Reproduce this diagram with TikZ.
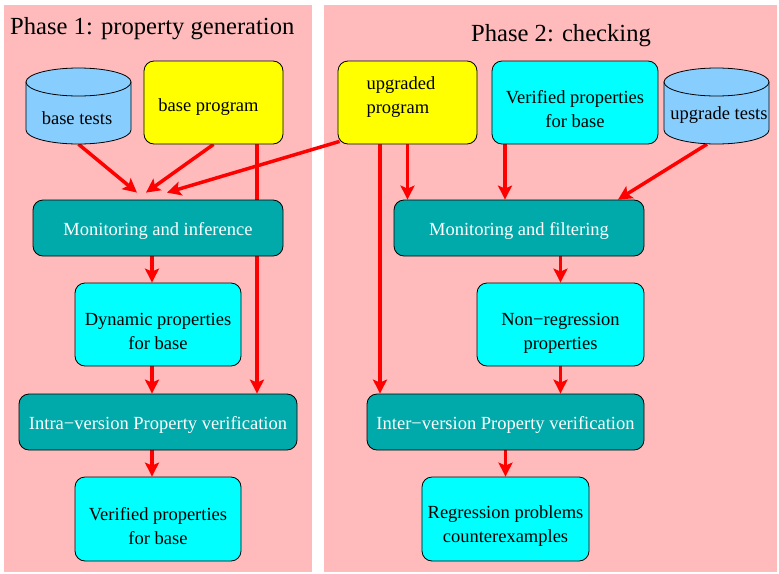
\documentclass[tikz,border=0pt]{standalone}
\usepackage{fontspec}
\setmainfont{Liberation Serif}
\usetikzlibrary{arrows.meta}
\definecolor{panelpink}{RGB}{255,187,187}
\definecolor{cylblue}{RGB}{135,206,255}
\definecolor{procteal}{RGB}{0,170,170}
\definecolor{datacyan}{RGB}{0,255,255}
\definecolor{progyellow}{RGB}{255,255,0}
\pgfdeclarelayer{bg}
\pgfsetlayers{bg,main}
\begin{document}
\begin{tikzpicture}[x=1pt,y=-1pt,
  every node/.style={font=\fontsize{18.5}{24}\selectfont},
  rbox/.style={draw=black, line width=0.8pt, rounded corners=10pt, inner sep=0pt},
  procbox/.style={rbox, fill=procteal, text=white, minimum width=#1, minimum height=56pt,
    text height=18pt, text depth=4pt},
  databox/.style={rbox, fill=datacyan, minimum width=#1, minimum height=83pt},
  progbox/.style={rbox, fill=progyellow, minimum width=139pt, minimum height=83pt},
  txt/.style={align=center, inner sep=0pt},
  cylbody/.style={fill=cylblue, draw=black, line width=0.8pt},
  title/.style={font=\fontsize{24.6}{30}\selectfont, inner sep=0pt},
  arr/.style={draw=red, line width=3.5pt, -{Stealth[length=14pt, width=14pt, inset=3pt]}}
]
\useasboundingbox (0,0) rectangle (779,573);

% panels
\begin{pgfonlayer}{bg}
  \fill[panelpink] (4,5) rectangle (312,572);
  \fill[panelpink] (324,5) rectangle (777,572);
\end{pgfonlayer}

\node[title, anchor=base west] (t1) at (10,34) {Phase 1: property generation};
\node[title, anchor=base] (t2) at (561,41) {Phase 2: checking};

% test suites (cylinders)
\filldraw[cylbody] (26,82) -- (26,130) arc[start angle=180, end angle=360, x radius=52.5pt, y radius=14pt] -- (131,82) -- cycle;
\filldraw[cylbody] (78.5,82) ellipse[x radius=52.5pt, y radius=14pt];
\node[minimum width=105pt, minimum height=76pt, inner sep=0pt] (bt) at (78.5,106) {};
\node[txt] (btl) at (77,118.5) {base tests};

\filldraw[cylbody] (664,82) -- (664,130) arc[start angle=180, end angle=360, x radius=52.5pt, y radius=14pt] -- (769,82) -- cycle;
\filldraw[cylbody] (716.5,82) ellipse[x radius=52.5pt, y radius=14pt];
\node[minimum width=105pt, minimum height=76pt, inner sep=0pt] (ut) at (716.5,106) {};
\node[txt] (utl) at (719,115) {upgrade tests};

% programs and property sets, top row
\node[progbox] (bp) at (213.5,102.5) {};
\node[txt] (bpl) at (208.5,107) {base program};
\node[progbox] (up) at (407.5,102.5) {};
\node[txt, align=left] (upl) at (401,97) {upgraded\\program};
\node[databox=166pt] (vb) at (575,102.5) {};
\node[txt] (vbl) at (575,109.5) {Verified properties\\for base};

% phase 1 column
\node[procbox=250pt] (mi) at (158,228) {Monitoring and inference};
\node[databox=166pt] (dp) at (158,324.5) {};
\node[txt] (dpl) at (158,331.5) {Dynamic properties\\for base};
\node[procbox=278pt] (ip) at (158,422) {Intra−version Property verification};
\node[databox=166pt, minimum height=84pt] (vf) at (158,519) {};
\node[txt] (vfl) at (158,526) {Verified properties\\for base};

% phase 2 column
\node[procbox=250pt] (mf) at (519,228) {Monitoring and filtering};
\node[databox=167pt] (nr) at (560.5,324.5) {};
\node[txt] (nrl) at (560.5,333.5) {Non−regression\\properties};
\node[procbox=277pt] (iv) at (505.5,422) {Inter−version Property verification};
\node[databox=167pt, minimum height=84pt] (rp) at (505.5,519) {};
\node[txt] (rpl) at (505.5,526) {Regression problems\\counterexamples};

% arrow targets above the inference step
\coordinate (mi-a) at ([shift={(-21,-7)}]mi.north);
\coordinate (mi-b) at ([shift={(-12,-7)}]mi.north);
\coordinate (mi-c) at ([shift={(9,-7)}]mi.north);

\begin{pgfonlayer}{bg}
  % phase 1 flow
  \draw[arr] (bt.south) -- (mi-a);
  \draw[arr] (bp.south) -- (mi-b);
  \draw[arr] ([shift={(2,-3)}]up.south west) -- (mi-c);
  \draw[arr] ([xshift=43.5pt]bp.south) -- ([xshift=43.5pt]bp.south |- ip.north);
  \draw[arr] ([xshift=-6pt]mi.south) -- ([xshift=-6pt]dp.north);
  \draw[arr] ([xshift=-6pt]dp.south) -- ([xshift=-6pt]dp.south |- ip.north);
  \draw[arr] ([xshift=-6pt]ip.south) -- ([xshift=-6pt]vf.north);
  % phase 2 flow
  \draw[arr] ([xshift=-27.5pt]up.south) -- ([xshift=-27.5pt]up.south |- iv.north);
  \draw[arr] (up.south) -- (up.south |- mf.north);
  \draw[arr] ([xshift=-70pt]vb.south) -- ([xshift=-70pt]vb.south |- mf.north);
  \draw[arr] ([xshift=-9.5pt]ut.south) -- ([xshift=99pt]mf.north);
  \draw[arr] (nr.north |- mf.south) -- (nr.north);
  \draw[arr] (nr.south) -- (nr.south |- iv.north);
  \draw[arr] (iv.south) -- (rp.north);
\end{pgfonlayer}
\end{tikzpicture}
\end{document}
